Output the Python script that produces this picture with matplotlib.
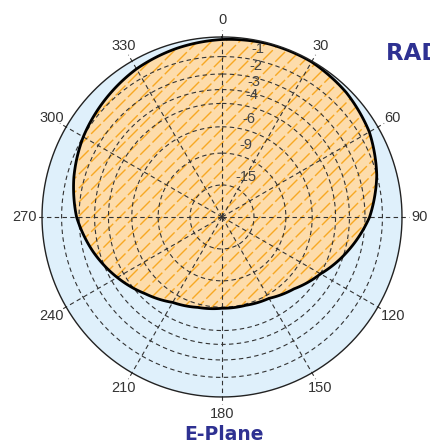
import numpy as np
import matplotlib.pyplot as plt

plt.rcParams['font.family'] = ['Liberation Sans', 'DejaVu Sans']

# E-plane pattern, relative field strength (1.0 = outer circle)
angle_deg = [0, 15, 30, 45, 60, 75, 90, 105, 120, 135, 150, 165,
             180, 195, 210, 225, 240, 255, 270, 285, 300, 315, 330, 345]
pattern = [0.986, 0.996, 0.995, 0.977, 0.945, 0.89, 0.82, 0.725, 0.632, 0.565, 0.522, 0.508,
           0.507, 0.52, 0.548, 0.603, 0.672, 0.742, 0.808, 0.852, 0.89, 0.92, 0.95, 0.97]

ring_db = [-1, -2, -3, -4, -6, -9, -15]
ring_labels = ['-1', '-2', '-3', '-4', '-6', '-9', '-15']
spoke_deg = [0, 30, 60, 90, 120, 150, 180, 210, 240, 270, 300, 330]
spoke_labels = ['0', '30', '60', '90', '120', '150', '180', '210', '240', '270', '300', '330']

blue = '#dff0fb'
peach = '#fddcab'
hatch_col = '#f7a823'
grid_col = '#333333'

fig = plt.figure(figsize=(4.3, 4.45), dpi=100)
ax = fig.add_axes([0.0977, 0.1079, 0.8372, 0.809], projection='polar')
ax.set_theta_zero_location('N')
ax.set_theta_direction(-1)
ax.axis('off')

full = np.linspace(0, 2 * np.pi, 361)

# background disk
ax.fill(full, np.ones_like(full), color=blue, zorder=1)

# pattern fill (let the polar transform curve the edges between readings)
th = np.deg2rad(angle_deg + [360])
rr = pattern + [pattern[0]]
poly = ax.fill(th, rr, facecolor=peach, edgecolor='none', zorder=2)[0]
poly.get_path()._interpolation_steps = 40

# hatch lines clipped to the pattern
for c in np.arange(-1.0, 1.0, 14 / 360):
    ln, = ax.plot([0, 1], [c, c + 1], transform=ax.transAxes, color=hatch_col,
                  lw=1.0, ls=(0, (10, 2.5)), zorder=3)
    ln.set_clip_path(poly)

# rings
ring_r = [10 ** (d / 20) for d in ring_db]
for r in ring_r:
    ax.plot(full, np.full_like(full, r), color=grid_col, lw=0.8, ls=(0, (4, 3)), zorder=4)

# spokes
for a in spoke_deg:
    t = np.deg2rad(a)
    ax.plot([t, t], [0, 1.04], color=grid_col, lw=0.8, ls=(0, (4, 3)), zorder=4, clip_on=False)

# outlines
edge = ax.fill(th, rr, facecolor='none', edgecolor='black', lw=2.0, zorder=5)[0]
edge.get_path()._interpolation_steps = 40
ax.plot(full, np.ones_like(full), color='#222222', lw=1.0, zorder=6, clip_on=False)

# angle labels
for a, lab in zip(spoke_deg, spoke_labels):
    ax.text(np.deg2rad(a), 1.095, lab, ha='center', va='center', fontsize=10.5,
            color='#333333', clip_on=False)

# dB labels along 0 deg
for r, lab in zip(ring_r, ring_labels):
    ax.annotate(lab, xy=(0, r), xytext=(10 + 0.12 * r * 180, 8), textcoords='offset pixels',
                ha='left', va='center', fontsize=10.5, color='#444444', zorder=7)

ax.set_ylim(0, 1)

fig.text(386 / 430, 1 - 53 / 445, 'RADIATION PATTERN', ha='left', va='center',
         fontsize=16.5, weight='bold', color='#2e3192', family='DejaVu Sans')
fig.text(224 / 430, 1 - 434 / 445, 'E-Plane', ha='center', va='center',
         fontsize=13.5, weight='bold', color='#2e3192', family='DejaVu Sans')

fig.savefig('out.png', dpi=100)
